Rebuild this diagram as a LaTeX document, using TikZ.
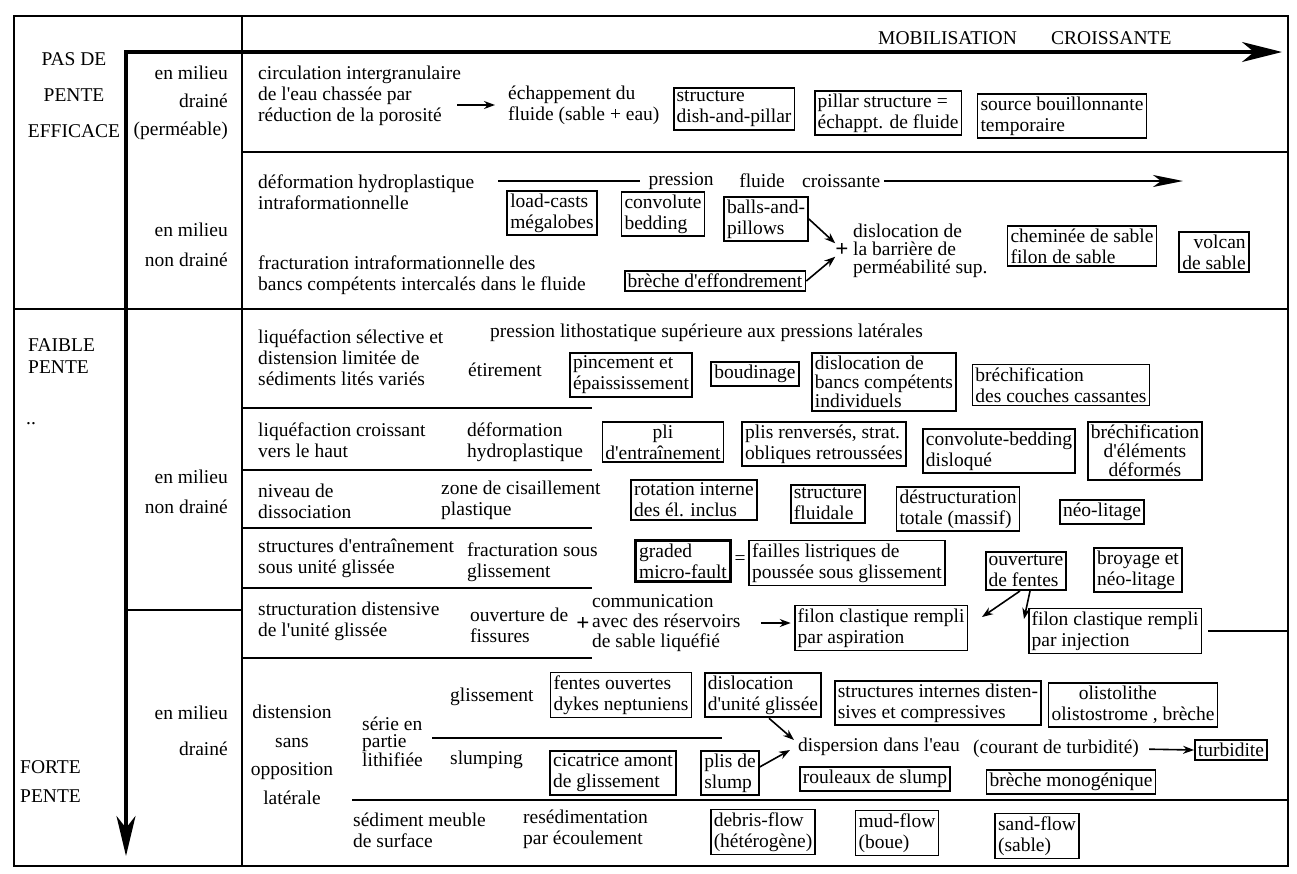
\documentclass[tikz,border=0pt]{standalone}
\usepackage{fontspec}
\setmainfont{Liberation Serif}[Ligatures=TeXOff]
\usetikzlibrary{arrows.meta}

\begin{document}
\begin{tikzpicture}[x=1pt,y=-1pt,
  font=\fontsize{19.5}{21}\selectfont,
  lbl/.style={inner sep=0pt,align=left},
  cadre/.style={draw,line width=1.8pt,inner sep=3pt,align=left},
  trait/.style={line width=1.8pt},
  fl/.style={line width=1.6pt,-{Stealth[length=11pt,width=8pt]}},
  gfl/.style={line width=3.4pt},
  signe/.style={inner sep=0pt,font=\fontsize{23}{23}\selectfont\bfseries}]
\useasboundingbox (0,0) rectangle (1297,873);

% cadre et divisions
\draw[line width=2.6pt] (14,16) rectangle (1288,866);
\draw[trait] (242,16) -- (242,866);
\draw[line width=2.4pt] (14,309) -- (1288,309);
\draw[trait] (242,152) -- (1288,152);
\draw[trait] (126,610) -- (242,610);
\draw[gfl,{Stealth[length=40pt,width=19pt,inset=12pt]}-{Stealth[length=40pt,width=20pt,inset=12pt]}]
  (126,856) -- (126,52) -- (1282,52);
\coordinate (droite) at (1288,0);

\node[lbl,anchor=west] (mob) at (878,38) {MOBILISATION};
\node[lbl,anchor=west] (cro) at (1051,38) {CROISSANTE};

% colonne de gauche
\node[lbl,align=center,font=\fontsize{19.5}{36}\selectfont] (pente0) at (74,95) {PAS DE\\PENTE\\EFFICACE};
\node[lbl,anchor=west,font=\fontsize{19.5}{22}\selectfont] (faible) at (28,356) {FAIBLE\\PENTE};
\node[lbl] (pts) at (31,424) {..};
\node[lbl,anchor=west,font=\fontsize{19.5}{29}\selectfont] (forte) at (20,782) {FORTE\\PENTE};

\node[lbl,anchor=east,align=right,font=\fontsize{19.5}{28}\selectfont] (dr1) at (228,103) {en milieu\\drainé\\(perméable)};
\node[lbl,anchor=east,align=right,font=\fontsize{19.5}{30}\selectfont] (nd1) at (228,245) {en milieu\\non drainé};
\node[lbl,anchor=east,align=right,font=\fontsize{19.5}{30}\selectfont] (nd2) at (228,492) {en milieu\\non drainé};
\node[lbl,anchor=east,align=right,font=\fontsize{19.5}{36}\selectfont] (dr2) at (228,731) {en milieu\\drainé};

% pas de pente, milieu drainé
\node[lbl,anchor=west] (circ) at (258,96) {circulation intergranulaire\\de l'eau chassée par\\réduction de la porosité};
\coordinate (c1) at (457,105);
\node[lbl,anchor=west] (echap) at (508,105) {échappement du\\fluide (sable + eau)};
\draw[fl,shorten >=13pt] (c1) -- (echap.west);
\node[cadre] (dish) at (734,109) {structure\\dish-and-pillar};
\node[cadre] (pill) at (888,113) {pillar structure =\\échappt. de fluide};
\node[cadre] (sour) at (1062,116) {source bouillonnante\\temporaire};

% pas de pente, milieu non drainé
\node[lbl,anchor=west] (defo) at (258,192) {déformation hydroplastique\\intraformationnelle};
\coordinate (p0) at (498,181);
\coordinate (p1) at (1183,181);
\node[lbl] (pres) at (681,181) {pression};
\node[lbl] (flu) at (762,181) {fluide};
\node[lbl,anchor=west] (croi) at (802,181) {croissante};
\draw[line width=2.6pt] (p0) -- ([xshift=-8pt]pres.west);
\draw[line width=2pt,-{Stealth[length=30pt,width=12pt,inset=8pt]}] ([xshift=4pt]croi.east) -- (p1);
\node[cadre] (load) at (552,213) {load-casts\\mégalobes};
\node[cadre] (conv) at (663,214) {convolute\\bedding};
\node[cadre] (ball) at (766,219) {balls-and-\\pillows};
\node[lbl,anchor=west] (fract) at (258,275) {fracturation intraformationnelle des\\bancs compétents intercalés dans le fluide};
\node[cadre] (brec) at (715,281) {brèche d'effondrement};
\node[signe] (plus1) at (842,250) {+};
\draw[fl] (ball.east) -- (plus1.north west);
\draw[fl] (brec.east) -- (plus1.south west);
\node[lbl,anchor=west,font=\fontsize{19.5}{18}\selectfont] (disl) at (853,251) {dislocation de\\la barrière de\\perméabilité sup.};
\node[cadre] (chem) at (1082,246) {cheminée de sable\\filon de sable};
\node[cadre,align=right] (volc) at (1214,252) {volcan\\de sable};

% faible pente
\node[lbl,anchor=west] (lith) at (490,333) {pression lithostatique supérieure aux pressions latérales};
\node[lbl,anchor=west] (liq1) at (258,358) {liquéfaction sélective et\\distension limitée de\\sédiments lités variés};
\node[lbl,anchor=west] (etir) at (468,370) {étirement};
\node[cadre] (pinc) at (631,375) {pincement et\\épaississement};
\node[cadre] (boud) at (755,374) {boudinage};
\node[cadre,font=\fontsize{19.5}{19}\selectfont] (bcomp) at (884,382) {dislocation de\\bancs compétents\\individuels};
\node[cadre] (brch) at (1061,385) {bréchification\\des couches cassantes};
\draw[trait] (242,408) -- (592,408);

\node[lbl,anchor=west] (liq2) at (258,440) {liquéfaction croissant\\vers le haut};
\node[lbl,anchor=west] (dhyd) at (467,442) {déformation\\hydroplastique};
\node[cadre,align=center] (pli) at (663,442) {pli\\d'entraînement};
\node[cadre] (plis) at (824,444) {plis renversés, strat.\\obliques retroussées};
\node[cadre] (cbd) at (999,451) {convolute-bedding\\disloqué};
\node[cadre,align=center,font=\fontsize{19.5}{19}\selectfont] (bdef) at (1145,451) {bréchification\\d'éléments\\déformés};
\draw[trait] (242,470) -- (592,470);

\node[lbl,anchor=west] (niv) at (258,501) {niveau de\\dissociation};
\node[lbl,anchor=west] (zone) at (441,500) {zone de cisaillement\\plastique};
\node[cadre] (rot) at (694,500) {rotation interne\\des él. inclus};
\node[cadre] (sfl) at (828,504) {structure\\fluidale};
\node[cadre] (dest) at (958,509) {déstructuration\\totale (massif)};
\node[cadre] (neo) at (1102,512) {néo-litage};
\draw[trait] (242,528) -- (592,528);

\node[lbl,anchor=west] (entr) at (258,558) {structures d'entraînement\\sous unité glissée};
\node[lbl,anchor=west] (frs) at (467,562) {fracturation sous\\glissement};
\node[cadre,line width=3.2pt,inner xsep=4pt] (grad) at (683,561) {graded\\micro-fault};
\node[lbl] (egal) at (740,560) {=};
\node[cadre] (fail) at (847,563) {failles listriques de\\poussée sous glissement};
\node[cadre] (ouvf) at (1026,571) {ouverture\\de fentes};
\node[cadre] (broy) at (1138,570) {broyage et\\néo-litage};
\draw[trait] (242,588) -- (592,588);

\node[lbl,anchor=west] (sdist) at (258,621) {structuration distensive\\de l'unité glissée};
\node[lbl,anchor=west] (ouvfi) at (470,625) {ouverture de\\fissures};
\node[signe] (plus2) at (583,624) {+};
\node[lbl,anchor=west,font=\fontsize{19.5}{20}\selectfont] (comm) at (592,623) {communication\\avec des réservoirs\\de sable liquéfié};
\node[cadre] (asp) at (881,628) {filon clastique rempli\\par aspiration};
\node[cadre] (inj) at (1115,631) {filon clastique rempli\\par injection};
\draw[fl,shorten <=20pt,shorten >=3pt] (comm.east) -- (comm.east -| asp.west);
\coordinate (ta) at (982,617);
\coordinate (tb) at (1024,619);
\draw[fl] ([xshift=-6pt]ouvf.south) -- (ta);
\draw[fl] ([xshift=4pt]ouvf.south) -- (tb);
\draw[trait] ([xshift=6pt]inj.east) -- (inj.east -| droite);
\draw[trait] (242,658) -- (592,658);

% forte pente
\node[lbl,align=center,font=\fontsize{19.5}{28.5}\selectfont] (dsans) at (292,755) {distension\\sans\\opposition\\latérale};
\node[lbl,anchor=west,font=\fontsize{19.5}{17}\selectfont] (serie) at (362,742) {série en\\partie\\lithifiée};
\draw[trait] (432,738) -- (722,738);
\node[lbl,anchor=west] (gliss) at (450,697) {glissement};
\node[cadre] (fent) at (621,695) {fentes ouvertes\\dykes neptuniens};
\node[cadre] (dglu) at (763,695) {dislocation\\d'unité glissée};
\node[cadre] (sint) at (938,703) {structures internes disten-\\sives et compressives};
\node[cadre] (olis) at (1133,705) {\hspace*{1.4em}olistolithe\\olistostrome , brèche};
\node[lbl,anchor=west] (disp) at (798,747) {dispersion dans l'eau};
\node[lbl,anchor=west] (cour) at (973,749) {(courant de turbidité)};
\node[cadre] (turb) at (1231,750) {turbidite};
\draw[fl,shorten <=10pt] (cour.east) -- (turb.west);
\node[lbl,anchor=west] (slum) at (450,760) {slumping};
\node[cadre] (cica) at (613,773) {cicatrice amont\\de glissement};
\node[cadre] (plsl) at (730,773) {plis de\\slump};
\node[cadre] (roul) at (875,779) {rouleaux de slump};
\node[cadre] (bmon) at (1071,782) {brèche monogénique};
\coordinate (da) at (794,740);
\coordinate (db) at (790,750);
\draw[fl] ([xshift=6pt]dglu.south) -- (da);
\draw[fl] ([yshift=6pt]plsl.east) -- (db);
\draw[trait] (352,800) -- (1288,800);

\node[lbl,anchor=west] (sedm) at (353,830) {sédiment meuble\\de surface};
\node[lbl,anchor=west] (resed) at (523,829) {resédimentation\\par écoulement};
\node[cadre] (debr) at (763,832) {debris-flow\\(hétérogène)};
\node[cadre] (mudf) at (897,833) {mud-flow\\(boue)};
\node[cadre] (sanf) at (1037,836) {sand-flow\\(sable)};
\end{tikzpicture}
\end{document}
